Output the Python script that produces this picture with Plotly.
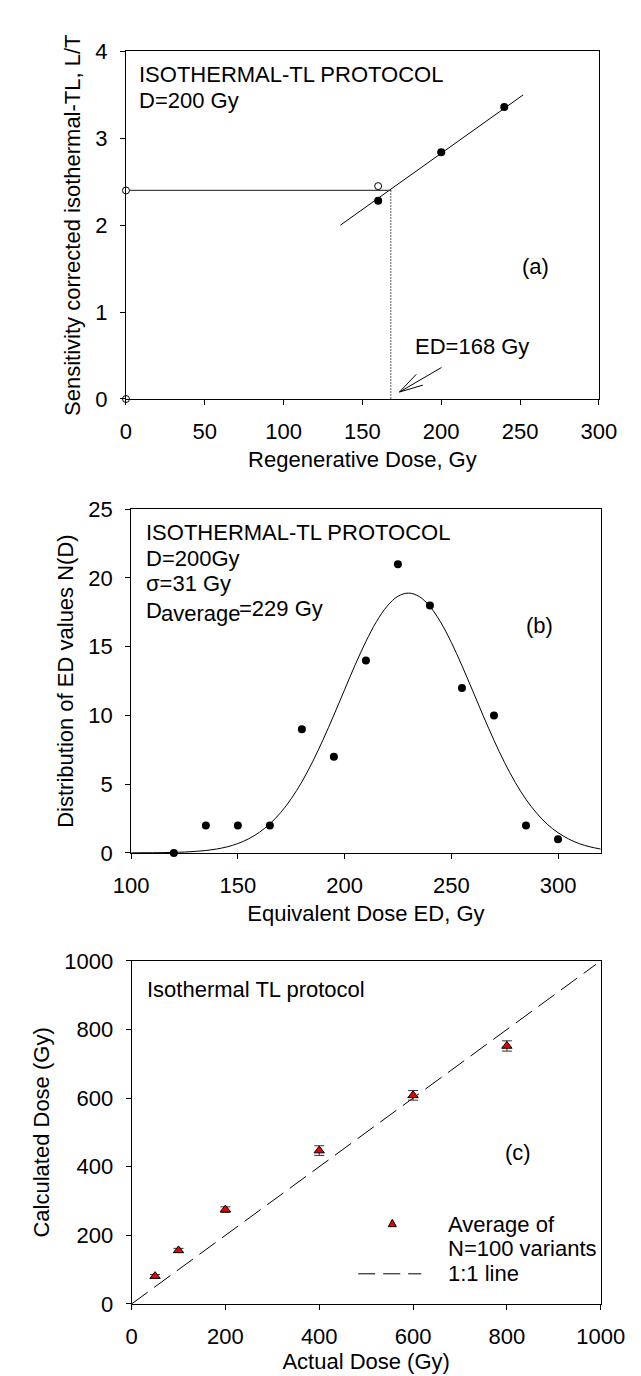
import plotly.graph_objects as go

W, H = 641, 1376
FONT = "Liberation Sans, Arial, sans-serif"
FS = 22

# ---------------- Panel (a) data ----------------
a_regen_dose = [160, 200, 240]
a_regen_signal = [2.28, 2.84, 3.36]
a_open_dose = [0, 160, 0]
a_open_signal = [2.40, 2.45, 0.0]
a_fit_dose = [136, 252]
a_fit_signal = [2.00, 3.50]
a_natural_signal = 2.40
a_ed = 168
a_arrow_tip = (173.5, 0.08)

# ---------------- Panel (b) data ----------------
b_dose = [120, 135, 150, 165, 180, 195, 210, 225, 240, 255, 270, 285, 300]
b_count = [0, 2, 2, 2, 9, 7, 14, 21, 18, 12, 10, 2, 1]
b_curve_dose = [100, 105, 110, 115, 120, 125, 130, 135, 140, 145, 150, 155, 160,
                165, 170, 175, 180, 185, 190, 195, 200, 205, 210, 215, 220, 225,
                230, 235, 240, 245, 250, 255, 260, 265, 270, 275, 280, 285, 290,
                295, 300, 305, 310, 315, 320]
b_curve_count = [0.00, 0.01, 0.01, 0.02, 0.04, 0.06, 0.11, 0.17, 0.28, 0.44, 0.68,
                 1.02, 1.49, 2.11, 2.92, 3.94, 5.17, 6.62, 8.26, 10.03, 11.87, 13.69,
                 15.38, 16.84, 17.96, 18.67, 18.90, 18.65, 17.92, 16.79, 15.32, 13.62,
                 11.80, 9.96, 8.19, 6.56, 5.12, 3.89, 2.89, 2.08, 1.47, 1.01, 0.67,
                 0.44, 0.28]

# ---------------- Panel (c) data ----------------
c_actual = [50, 100, 200, 400, 600, 800]
c_calc = [81, 156, 275, 447, 608, 752]
c_err = [5, 6, 8, 14, 14, 15]
c_line = [0, 990]

# ---------------- layout geometry (pixels) ----------------
A_X0, A_X1, A_Y0, A_Y1 = 107, 613, 32, 386
B_X0, B_X1, B_Y0, B_Y1 = 112.5, 615, 498.3, 848.3
C_X0, C_X1, C_Y0, C_Y1 = 113, 615, 958.3, 1307.7


def px(x):
    return x / W


def py(y):
    return 1 - y / H


fig = go.Figure()

# Panel (a)
fig.add_trace(go.Scatter(x=a_fit_dose, y=a_fit_signal, mode="lines",
                         line=dict(color="black", width=1), xaxis="x", yaxis="y",
                         cliponaxis=False))
fig.add_trace(go.Scatter(x=[0, a_ed], y=[a_natural_signal, a_natural_signal], mode="lines",
                         line=dict(color="#444", width=1.3), xaxis="x", yaxis="y",
                         cliponaxis=False))
fig.add_trace(go.Scatter(x=[a_ed, a_ed], y=[a_natural_signal, 0], mode="lines",
                         line=dict(color="black", width=1.3, dash="1px,2px"),
                         xaxis="x", yaxis="y"))
fig.add_trace(go.Scatter(x=a_regen_dose, y=a_regen_signal, mode="markers",
                         marker=dict(color="black", size=8, line=dict(width=0)),
                         xaxis="x", yaxis="y", cliponaxis=False))
fig.add_trace(go.Scatter(x=a_open_dose, y=a_open_signal, mode="markers",
                         marker=dict(color="white", size=7, line=dict(color="black", width=1)),
                         xaxis="x", yaxis="y", cliponaxis=False))

# Panel (b)
fig.add_trace(go.Scatter(x=b_curve_dose, y=b_curve_count, mode="lines",
                         line=dict(color="black", width=1, shape="spline"),
                         xaxis="x2", yaxis="y2", cliponaxis=False))
fig.add_trace(go.Scatter(x=b_dose, y=b_count, mode="markers",
                         marker=dict(color="black", size=8, line=dict(width=0)),
                         xaxis="x2", yaxis="y2", cliponaxis=False))

# Panel (c)
fig.add_trace(go.Scatter(x=c_line, y=c_line, mode="lines",
                         line=dict(color="black", width=1, dash="20px,8px"),
                         xaxis="x3", yaxis="y3"))
fig.add_trace(go.Scatter(x=c_actual, y=c_calc, mode="markers",
                         marker=dict(symbol="triangle-up", color="#ee0000", size=9,
                                     line=dict(color="black", width=1)),
                         error_y=dict(type="data", array=c_err, visible=True,
                                      color="#333", thickness=1, width=5),
                         xaxis="x3", yaxis="y3", cliponaxis=False))


def axis(domain, rng, dtick, anchor, title, standoff, tick0=0):
    return dict(domain=domain, range=rng, dtick=dtick, tick0=tick0, anchor=anchor,
                showline=True, linecolor="black", linewidth=1, mirror=True,
                ticks="outside", ticklen=5, tickwidth=1, tickcolor="black",
                showgrid=False, zeroline=False, ticklabelstandoff=8,
                tickfont=dict(family=FONT, size=FS, color="black"),
                title=dict(text=title, standoff=standoff,
                           font=dict(family=FONT, size=FS, color="black")))


fig.update_layout(
    width=W, height=H, autosize=False,
    margin=dict(l=0, r=0, t=0, b=0),
    paper_bgcolor="white", plot_bgcolor="white",
    showlegend=False,
    font=dict(family=FONT, size=FS, color="black"),
    xaxis=axis([px(A_X0), px(A_X1)], [0, 300], 50, "y", "Regenerative Dose, Gy", 8),
    yaxis=axis([py(A_Y1), py(A_Y0)], [0, 4], 1, "x",
               "Sensitivity corrected isothermal-TL, L/T", 8),
    xaxis2=axis([px(B_X0), px(B_X1)], [100, 320], 50, "y2", "Equivalent Dose ED, Gy", 8,
                tick0=100),
    yaxis2=axis([py(B_Y1), py(B_Y0)], [0, 25], 5, "x2",
                "Distribution of ED values N(D)", 8),
    xaxis3=axis([px(C_X0), px(C_X1)], [0, 1000], 200, "y3", "Actual Dose (Gy)", 4),
    yaxis3=axis([py(C_Y1), py(C_Y0)], [0, 1000], 200, "x3", "Calculated Dose (Gy)", 8),
)

ann = []


def text(x, y, s, xanchor="left"):
    ann.append(dict(x=px(x), y=py(y), xref="paper", yref="paper", text=s,
                    showarrow=False, xanchor=xanchor, yanchor="middle",
                    font=dict(family=FONT, size=FS, color="black")))


# panel (a) texts
text(119, 56, "ISOTHERMAL-TL PROTOCOL")
text(119, 82, "D=200 Gy")
text(545, 251, "(a)", "center")
text(414, 333, "ED=168 Gy")

# panel (b) texts
text(126.7, 522, "ISOTHERMAL-TL PROTOCOL")
text(126.7, 548.5, "D=200Gy")
text(126.7, 574, "σ=31 Gy")
# D_average=229 Gy: main letter, lowered subscript (full size), rest
text(126.7, 601, "D")
text(142.0, 604.5, "average")
text(225.5, 599.5, "=229 Gy")
text(549.5, 617, "(b)", "center")

# panel (c) texts & legend
text(127.5, 987, "Isothermal TL protocol")
text(526, 1153, "(c)", "center")
text(449.5, 1227, "Average of")
text(449.5, 1251.5, "N=100 variants")
text(449.5, 1277, "1:1 line")

fig.update_layout(annotations=ann)

shapes = []
# ED arrow in panel (a): shaft + two open barbs (pixel offsets converted to data units)
sx = (A_X1 - A_X0) / 300.0
sy = (A_Y1 - A_Y0) / 4.0
for dx, dy in [(45, 25), (18, 18), (25, 7)]:
    shapes.append(dict(type="line", xref="x", yref="y",
                       x0=a_arrow_tip[0], y0=a_arrow_tip[1],
                       x1=a_arrow_tip[0] + dx / sx, y1=a_arrow_tip[1] + dy / sy,
                       line=dict(color="black", width=1)))
# legend dashed line
shapes.append(dict(type="line", xref="paper", yref="paper",
                   x0=px(355.5), x1=px(423), y0=py(1277), y1=py(1277),
                   line=dict(color="black", width=1, dash="17px,8px")))
# legend triangle marker
cx, cy = 392, 1226
tri = "M {} {} L {} {} L {} {} Z".format(px(cx), py(cy - 4.5), px(cx - 4.3), py(cy + 3),
                                        px(cx + 4.3), py(cy + 3))
shapes.append(dict(type="path", xref="paper", yref="paper", path=tri,
                   fillcolor="#ee0000", line=dict(color="black", width=1)))
fig.update_layout(shapes=shapes)

fig.write_html("out.html")
